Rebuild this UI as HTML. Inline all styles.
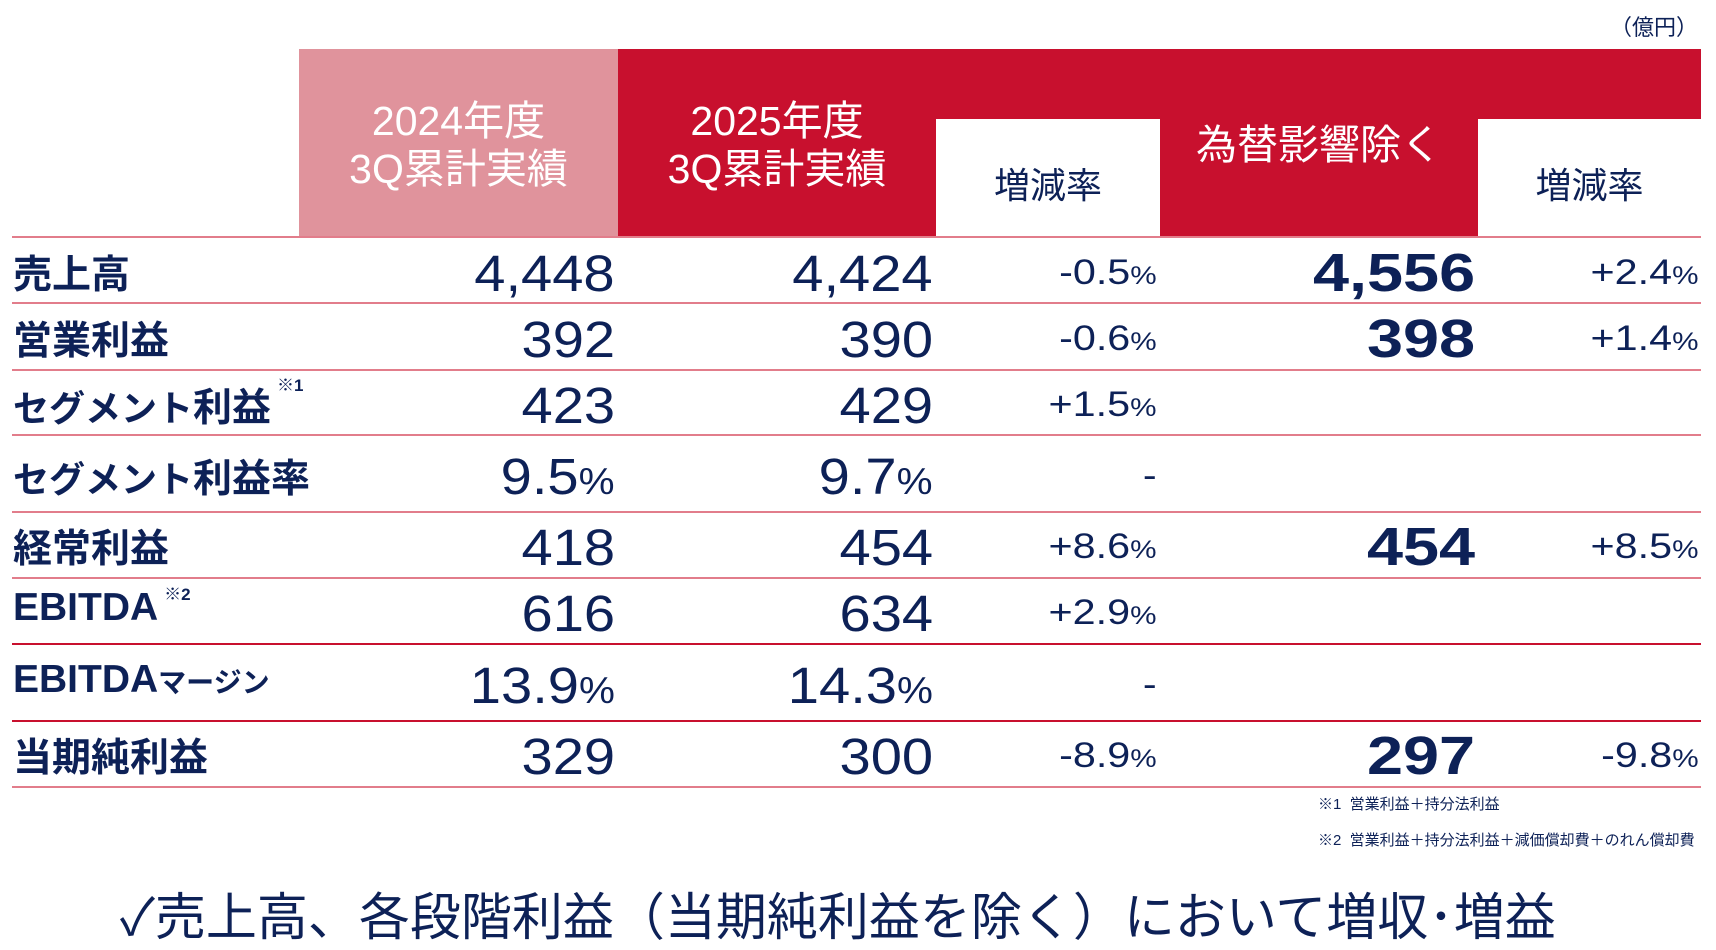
<!DOCTYPE html>
<html><head><meta charset="utf-8"><style>
body{margin:0;width:1716px;height:944px;background:#fff;position:relative;overflow:hidden;font-family:"Liberation Sans","Noto Sans CJK JP",sans-serif;color:#0d2157}
.a{position:absolute}
.line{position:absolute;left:12px;width:1689px;height:2px;background:#e27d8b}
.line.r{background:#c8102e}
.hd{position:absolute;color:#fff;font-size:41px;text-align:center;line-height:48px}
.lab{position:absolute;left:13px;font-weight:bold;font-size:39px;white-space:nowrap}
.k{font-size:36px}
.n{position:absolute;font-size:51px;text-align:right;white-space:nowrap;transform:scaleX(1.1);transform-origin:right center}
.p{position:absolute;font-size:35px;text-align:right;white-space:nowrap;transform:scaleX(1.18);transform-origin:right center}
.s{font-size:0.72em}
.b{font-weight:bold;font-size:54px;transform:scaleX(1.2)}
sup{font-size:17px;vertical-align:top;position:relative;top:-6px;margin-left:6px}
</style></head><body>
<div class="a" style="right:18px;top:10px;font-size:22px">（億円）</div>
<div class="a" style="left:299px;top:49px;width:319px;height:188px;background:#e0939c"></div>
<div class="a" style="left:618px;top:49px;width:1083px;height:188px;background:#c8102e"></div>
<div class="a" style="left:936px;top:119px;width:224px;height:118px;background:#fff"></div>
<div class="a" style="left:1478px;top:119px;width:223px;height:118px;background:#fff"></div>
<div class="hd" style="left:299px;top:97px;width:319px">2024年度<br>3Q累計実績</div>
<div class="hd" style="left:618px;top:97px;width:318px">2025年度<br>3Q累計実績</div>
<div class="hd" style="left:1160px;top:121px;width:318px">為替影響除く</div>
<div class="a" style="left:936px;top:157px;width:224px;text-align:center;font-size:36px">増減率</div>
<div class="a" style="left:1478px;top:157px;width:223px;text-align:center;font-size:36px">増減率</div>

<div class="line" style="top:236px"></div>
<div class="line" style="top:302px"></div>
<div class="line" style="top:369px"></div>
<div class="line" style="top:434px"></div>
<div class="line" style="top:511px"></div>
<div class="line" style="top:577px"></div>
<div class="line r" style="top:643px"></div>
<div class="line r" style="top:720px"></div>
<div class="line" style="top:786px"></div>

<div class="lab" style="top:244px">売上高</div>
<div class="n" style="right:1101px;top:244px">4,448</div>
<div class="n" style="right:783px;top:244px">4,424</div>
<div class="p" style="right:559px;top:253px">-0.5<span class="s">%</span></div>
<div class="n b" style="right:241px;top:242px">4,556</div>
<div class="p" style="right:17px;top:253px">+2.4<span class="s">%</span></div>

<div class="lab" style="top:310px">営業利益</div>
<div class="n" style="right:1101px;top:310px">392</div>
<div class="n" style="right:783px;top:310px">390</div>
<div class="p" style="right:559px;top:319px">-0.6<span class="s">%</span></div>
<div class="n b" style="right:241px;top:308px">398</div>
<div class="p" style="right:17px;top:319px">+1.4<span class="s">%</span></div>

<div class="lab" style="top:377px"><span class="k">セグメント</span>利益<sup>※1</sup></div>
<div class="n" style="right:1101px;top:376px">423</div>
<div class="n" style="right:783px;top:376px">429</div>
<div class="p" style="right:559px;top:385px">+1.5<span class="s">%</span></div>

<div class="lab" style="top:448px"><span class="k">セグメント</span>利益率</div>
<div class="n" style="right:1101px;top:447px">9.5<span class="s">%</span></div>
<div class="n" style="right:783px;top:447px">9.7<span class="s">%</span></div>
<div class="p" style="right:559px;top:456px">-</div>

<div class="lab" style="top:518px">経常利益</div>
<div class="n" style="right:1101px;top:518px">418</div>
<div class="n" style="right:783px;top:518px">454</div>
<div class="p" style="right:559px;top:527px">+8.6<span class="s">%</span></div>
<div class="n b" style="right:241px;top:516px">454</div>
<div class="p" style="right:17px;top:527px">+8.5<span class="s">%</span></div>

<div class="lab" style="top:586px">EBITDA<sup>※2</sup></div>
<div class="n" style="right:1101px;top:584px">616</div>
<div class="n" style="right:783px;top:584px">634</div>
<div class="p" style="right:559px;top:593px">+2.9<span class="s">%</span></div>

<div class="lab" style="top:658px">EBITDA<span style="font-size:28px">マージン</span></div>
<div class="n" style="right:1101px;top:656px">13.9<span class="s">%</span></div>
<div class="n" style="right:783px;top:656px">14.3<span class="s">%</span></div>
<div class="p" style="right:559px;top:665px">-</div>

<div class="lab" style="top:727px">当期純利益</div>
<div class="n" style="right:1101px;top:727px">329</div>
<div class="n" style="right:783px;top:727px">300</div>
<div class="p" style="right:559px;top:736px">-8.9<span class="s">%</span></div>
<div class="n b" style="right:241px;top:725px">297</div>
<div class="p" style="right:17px;top:736px">-9.8<span class="s">%</span></div>

<div class="a" style="left:1318px;top:793px;font-size:15px;white-space:nowrap">※1&nbsp;&nbsp;営業利益＋持分法利益</div>
<div class="a" style="left:1318px;top:829px;font-size:15px;white-space:nowrap">※2&nbsp;&nbsp;営業利益＋持分法利益＋減価償却費＋のれん償却費</div>
<div class="a" style="left:120px;top:876px;font-size:51px;white-space:nowrap">✓売上高、各段階利益（当期純利益を除く）において増収･増益</div>
</body></html>
